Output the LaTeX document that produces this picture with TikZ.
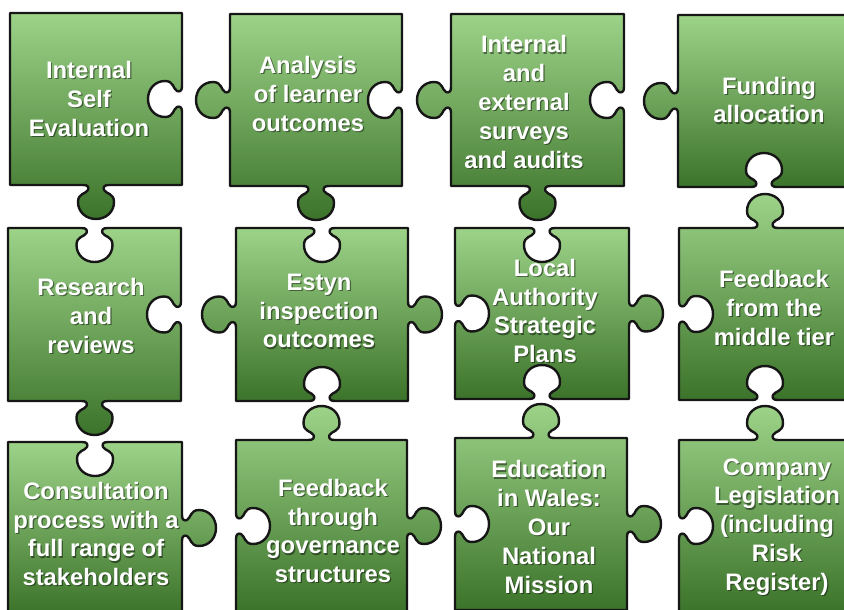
\documentclass[tikz,border=0pt]{standalone}
\usepackage{fontspec}
\setmainfont{Liberation Sans}
\usetikzlibrary{calc, positioning}
\definecolor{pzlight}{RGB}{157,211,137}
\definecolor{pzmid}{RGB}{104,185,76}
\definecolor{pzdark}{RGB}{60,115,42}
\definecolor{pzline}{RGB}{22,22,22}
\tikzstyle{piece} = [draw=pzline, line width=2.4pt, line join=round, top color=pzlight, middle color=pzmid, bottom color=pzdark]
\tikzstyle{piecetext} = [text=white, align=center, inner sep=0pt, font=\bfseries\fontsize{23.8}{28.8}\selectfont]
\tikzstyle{textshadow} = [piecetext, text=black, opacity=0.45]
% tab (+1), blank (-1) or flat (0) at an edge: mid x, mid y, dir x, dir y, sign
\tikzset{
  bump/.style n args={5}{insert path={
    -- ({#1-13*(#3)},{#2-13*(#4)})
    .. controls ({#1-8*(#3)},{#2-8*(#4)})
           and ({#1-7*(#3)+2*(#5)*(#4)},{#2-7*(#4)-2*(#5)*(#3)})
        .. ({#1-8*(#3)+5*(#5)*(#4)},{#2-8*(#4)-5*(#5)*(#3)})
    .. controls ({#1-10*(#3)+9*(#5)*(#4)},{#2-10*(#4)-9*(#5)*(#3)})
           and ({#1-18*(#3)+8*(#5)*(#4)},{#2-18*(#4)-8*(#5)*(#3)})
        .. ({#1-18*(#3)+17*(#5)*(#4)},{#2-18*(#4)-17*(#5)*(#3)})
    .. controls ({#1-18*(#3)+27*(#5)*(#4)},{#2-18*(#4)-27*(#5)*(#3)})
           and ({#1-10*(#3)+34*(#5)*(#4)},{#2-10*(#4)-34*(#5)*(#3)})
        .. ({#1+34*(#5)*(#4)},{#2-34*(#5)*(#3)})
    .. controls ({#1+10*(#3)+34*(#5)*(#4)},{#2+10*(#4)-34*(#5)*(#3)})
           and ({#1+18*(#3)+27*(#5)*(#4)},{#2+18*(#4)-27*(#5)*(#3)})
        .. ({#1+18*(#3)+17*(#5)*(#4)},{#2+18*(#4)-17*(#5)*(#3)})
    .. controls ({#1+18*(#3)+8*(#5)*(#4)},{#2+18*(#4)-8*(#5)*(#3)})
           and ({#1+10*(#3)+9*(#5)*(#4)},{#2+10*(#4)-9*(#5)*(#3)})
        .. ({#1+8*(#3)+5*(#5)*(#4)},{#2+8*(#4)-5*(#5)*(#3)})
    .. controls ({#1+7*(#3)+2*(#5)*(#4)},{#2+7*(#4)-2*(#5)*(#3)})
           and ({#1+8*(#3)},{#2+8*(#4)})
        .. ({#1+13*(#3)},{#2+13*(#4)})
  }}
}
% x, y (top left), width, height, top, right, bottom, left
\newcommand{\piece}[8]{%
  \path[piece] (#1,#2) [bump={#1+#3/2}{#2}{1}{0}{#5}]
    -- (#1+#3,#2) [bump={#1+#3}{#2+#4/2}{0}{1}{#6}]
    -- (#1+#3,#2+#4) [bump={#1+#3/2}{#2+#4}{-1}{0}{#7}]
    -- (#1,#2+#4) [bump={#1}{#2+#4/2}{0}{-1}{#8}]
    -- cycle;}
\newcommand{\piecelabel}[4]{%
  \node[textshadow] (#1s) at (#2+1.2,#3+1.2) {#4};
  \node[piecetext] (#1) at (#2,#3) {#4};}

\begin{document}
\begin{tikzpicture}[x=1pt, y=-1pt]
\useasboundingbox (0,0) rectangle (844,610);
\clip (0,0) rectangle (844,610);
% row 1
\piece{10}{13}{172}{172}{0}{-1}{1}{0}
\piece{230}{14}{172}{172}{0}{-1}{1}{1}
\piece{451}{14}{173}{172}{0}{-1}{1}{1}
\piece{678}{15}{172}{172}{0}{0}{-1}{1}
% row 2
\piece{8}{228}{173}{173}{-1}{-1}{1}{0}
\piece{236}{228}{172}{173}{-1}{1}{-1}{1}
\piece{455}{228}{174}{171}{-1}{1}{-1}{-1}
\piece{679}{228}{172}{172}{1}{0}{-1}{-1}
% row 3
\piece{8}{442}{174}{172}{-1}{1}{0}{0}
\piece{236}{440}{171}{172}{1}{1}{0}{-1}
\piece{455}{438}{172}{172}{1}{1}{0}{-1}
\piece{679}{440}{172}{172}{1}{0}{0}{-1}
% texts
\piecelabel{selfeval}{89}{99}{Internal\\Self\\Evaluation}
\piecelabel{learner}{308}{94}{Analysis\\of learner\\outcomes}
\piecelabel{surveys}{524}{102}{Internal\\and\\external\\surveys\\and audits}
\piecelabel{funding}{769}{100}{Funding\\allocation}
\piecelabel{research}{91}{316}{Research\\and\\reviews}
\piecelabel{estyn}{319}{311}{Estyn\\inspection\\outcomes}
\piecelabel{authority}{545}{311}{Local\\Authority\\Strategic\\Plans}
\piecelabel{middletier}{774}{308}{Feedback\\from the\\middle tier}
\piecelabel{consult}{96}{534}{Consultation\\process with a\\full range of\\stakeholders}
\piecelabel{governance}{333}{531}{Feedback\\through\\governance\\structures}
\piecelabel{mission}{549}{527}{Education\\in Wales:\\Our\\National\\Mission}
\piecelabel{company}{777}{527}{Company\\Legislation\\(including\\Risk\\Register)}
\end{tikzpicture}
\end{document}
